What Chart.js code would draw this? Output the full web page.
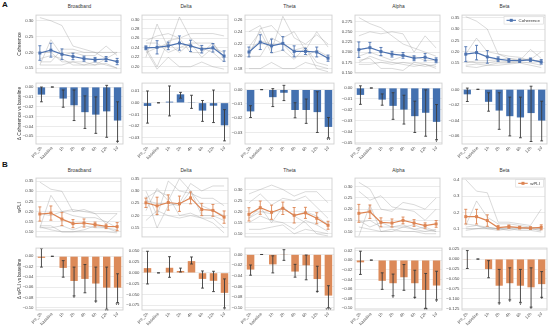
<!DOCTYPE html>
<html>
<head>
<meta charset="utf-8">
<script src="https://cdn.jsdelivr.net/npm/chart.js@4.4.1/dist/chart.umd.min.js"></script>
<style>
  html, body { margin: 0; padding: 0; background: #fff; overflow: hidden; }
  #fig { position: relative; width: 550px; height: 330px; font-family: 'Liberation Sans', Arial, sans-serif; }
  #fig canvas { position: absolute; }
  .lbl { position: absolute; white-space: nowrap; color: #333; line-height: 1; }
  .panel { font-weight: bold; font-size: 8px; color: #111; }
  .ttl { font-size: 4.8px; transform: translate(-50%, -50%); }
</style>
</head>
<body>
<div id="fig"></div>
<script>
// ── Data ────────────────────────────────────────────────────────────────────
const TIMEPOINTS = ['pre_2h', 'baseline', '1h', '2h', '4h', '6h', '12h', '1d'];
const BANDS = ['Broadband', 'Delta', 'Theta', 'Alpha', 'Beta'];

// Coherence (panel A) — group mean and error, one row per band
const cohMean = [
  [0.198, 0.207, 0.194, 0.187, 0.180, 0.177, 0.179, 0.171],
  [0.240, 0.241, 0.244, 0.250, 0.244, 0.237, 0.240, 0.2225],
  [0.207, 0.223, 0.217, 0.221, 0.208, 0.208, 0.207, 0.197],
  [0.206, 0.211, 0.2015, 0.195, 0.192, 0.185, 0.1875, 0.180],
  [0.189, 0.196, 0.177, 0.167, 0.161, 0.160, 0.164, 0.155],
];
const cohErr = [
  [0.023, 0.022, 0.017, 0.010, 0.008, 0.007, 0.008, 0.010],
  [0.004, 0.014, 0.008, 0.015, 0.012, 0.008, 0.009, 0.011],
  [0.008, 0.012, 0.011, 0.011, 0.009, 0.005, 0.008, 0.005],
  [0.019, 0.013, 0.010, 0.007, 0.007, 0.006, 0.009, 0.006],
  [0.033, 0.032, 0.028, 0.010, 0.008, 0.008, 0.008, 0.010],
];
// individual subjects (grey lines)
const cohSubj = [
  [[0.31, 0.30, 0.285, 0.22, 0.21, 0.20, 0.20, 0.20],
   [0.16, 0.24, 0.19, 0.20, 0.19, 0.19, 0.22, 0.19],
   [0.17, 0.17, 0.21, 0.21, 0.20, 0.20, 0.18, 0.20],
   [0.16, 0.16, 0.16, 0.17, 0.17, 0.16, 0.165, 0.15],
   [0.20, 0.20, 0.17, 0.17, 0.16, 0.17, 0.16, 0.15],
   [0.18, 0.19, 0.18, 0.16, 0.16, 0.16, 0.18, 0.17]],
  [[0.22, 0.29, 0.24, 0.305, 0.26, 0.24, 0.23, 0.21],
   [0.24, 0.20, 0.255, 0.26, 0.27, 0.27, 0.27, 0.265],
   [0.255, 0.265, 0.27, 0.26, 0.23, 0.23, 0.25, 0.22],
   [0.235, 0.195, 0.22, 0.20, 0.20, 0.21, 0.20, 0.195],
   [0.25, 0.25, 0.23, 0.24, 0.25, 0.22, 0.24, 0.23],
   [0.23, 0.24, 0.25, 0.23, 0.25, 0.25, 0.25, 0.215]],
  [[0.24, 0.25, 0.21, 0.265, 0.23, 0.22, 0.235, 0.22],
   [0.20, 0.245, 0.25, 0.23, 0.24, 0.21, 0.24, 0.215],
   [0.20, 0.20, 0.23, 0.22, 0.20, 0.20, 0.21, 0.20],
   [0.18, 0.18, 0.19, 0.18, 0.18, 0.19, 0.185, 0.18],
   [0.215, 0.24, 0.205, 0.21, 0.195, 0.215, 0.19, 0.185],
   [0.21, 0.225, 0.22, 0.22, 0.21, 0.215, 0.18, 0.175]],
  [[0.285, 0.27, 0.26, 0.24, 0.22, 0.21, 0.20, 0.19],
   [0.24, 0.25, 0.245, 0.25, 0.245, 0.20, 0.24, 0.21],
   [0.19, 0.20, 0.19, 0.18, 0.19, 0.19, 0.18, 0.18],
   [0.175, 0.19, 0.18, 0.175, 0.17, 0.165, 0.17, 0.16],
   [0.17, 0.17, 0.175, 0.17, 0.175, 0.17, 0.165, 0.17],
   [0.18, 0.185, 0.16, 0.16, 0.155, 0.175, 0.17, 0.165]],
  [[0.355, 0.335, 0.30, 0.19, 0.18, 0.175, 0.16, 0.16],
   [0.19, 0.26, 0.20, 0.19, 0.17, 0.16, 0.21, 0.17],
   [0.15, 0.16, 0.16, 0.165, 0.17, 0.165, 0.165, 0.20],
   [0.14, 0.145, 0.14, 0.15, 0.15, 0.155, 0.15, 0.14],
   [0.135, 0.13, 0.14, 0.14, 0.145, 0.15, 0.14, 0.13],
   [0.16, 0.15, 0.15, 0.16, 0.155, 0.16, 0.17, 0.15]],
];
// change vs baseline, with lower / upper interval and significance marks
const cohDelta = [
  [-0.0077, 0, -0.0117, -0.0185, -0.0255, -0.028, -0.0247, -0.034],
  [-0.0027, 0, 0.001, 0.0073, 0.0005, -0.0067, -0.0025, -0.0194],
  [-0.0153, 0, -0.0053, -0.0022, -0.0143, -0.0143, -0.0158, -0.0262],
  [-0.0063, 0, -0.0106, -0.0163, -0.0197, -0.0257, -0.0226, -0.0309],
  [-0.0064, 0, -0.016, -0.0272, -0.0344, -0.036, -0.0304, -0.040],
];
const cohLo = [
  [-0.015, 0, -0.0205, -0.034, -0.042, -0.047, -0.051, -0.055],
  [-0.0175, 0, -0.0113, 0.004, -0.0048, -0.016, -0.017, -0.0328],
  [-0.0196, 0, -0.0119, -0.0077, -0.0198, -0.0237, -0.0301, -0.0338],
  [-0.0149, 0, -0.0157, -0.0286, -0.0329, -0.0406, -0.044, -0.0471],
  [-0.0156, 0, -0.028, -0.0512, -0.0596, -0.062, -0.0668, -0.066],
];
const cohHi = [
  [0.0, 0, -0.003, -0.003, -0.009, -0.010, 0.0017, -0.015],
  [0.0102, 0, 0.0145, 0.009, 0.0065, 0.002, 0.011, -0.0059],
  [-0.0113, 0, 0.0007, 0.003, -0.0092, -0.0066, -0.0015, -0.0196],
  [0.002, 0, -0.0054, -0.0043, -0.0066, -0.012, -0.0017, -0.0151],
  [0.0016, 0, -0.0044, -0.0044, -0.010, -0.010, 0.004, -0.0152],
];
const cohStars = [
  ['', '', '', '', '', '', '', '*'],
  ['', '', '', '', '', '', '', ''],
  ['', '', '', '', '', '', '', '**'],
  ['', '', '', '', '', '', '', '*'],
  ['', '', '', '', '', '', '', ''],
];

// wPLI (panel B)
const wpliMean = [
  [0.188, 0.1926, 0.1628, 0.1405, 0.1435, 0.136, 0.127, 0.1256],
  [0.2519, 0.2395, 0.253, 0.248, 0.2716, 0.2247, 0.221, 0.1938],
  [0.1877, 0.2178, 0.1973, 0.215, 0.1836, 0.1945, 0.170, 0.1384],
  [0.1813, 0.1885, 0.141, 0.138, 0.1496, 0.138, 0.1266, 0.1338],
  [0.174, 0.174, 0.150, 0.1074, 0.113, 0.107, 0.104, 0.109],
];
const wpliErr = [
  [0.035, 0.035, 0.032, 0.020, 0.020, 0.012, 0.011, 0.020],
  [0.019, 0.035, 0.031, 0.031, 0.024, 0.025, 0.024, 0.025],
  [0.030, 0.030, 0.032, 0.028, 0.035, 0.025, 0.025, 0.018],
  [0.040, 0.030, 0.020, 0.018, 0.015, 0.015, 0.012, 0.015],
  [0.045, 0.045, 0.035, 0.013, 0.010, 0.008, 0.008, 0.015],
];
const wpliSubj = [
  [[0.345, 0.31, 0.30, 0.20, 0.21, 0.19, 0.19, 0.19],
   [0.12, 0.28, 0.20, 0.21, 0.20, 0.19, 0.14, 0.19],
   [0.13, 0.13, 0.10, 0.10, 0.10, 0.10, 0.10, 0.095],
   [0.12, 0.12, 0.13, 0.11, 0.13, 0.12, 0.12, 0.11],
   [0.125, 0.11, 0.10, 0.10, 0.11, 0.13, 0.12, 0.10],
   [0.19, 0.18, 0.20, 0.18, 0.17, 0.17, 0.15, 0.12]],
  [[0.30, 0.20, 0.34, 0.30, 0.29, 0.27, 0.27, 0.24],
   [0.28, 0.15, 0.24, 0.25, 0.33, 0.30, 0.32, 0.32],
   [0.22, 0.31, 0.26, 0.35, 0.30, 0.24, 0.22, 0.20],
   [0.18, 0.22, 0.20, 0.19, 0.20, 0.19, 0.17, 0.13],
   [0.26, 0.25, 0.25, 0.24, 0.30, 0.20, 0.20, 0.18],
   [0.27, 0.30, 0.28, 0.20, 0.21, 0.19, 0.19, 0.15]],
  [[0.28, 0.30, 0.32, 0.30, 0.27, 0.29, 0.29, 0.24],
   [0.24, 0.28, 0.23, 0.26, 0.25, 0.27, 0.22, 0.17],
   [0.17, 0.22, 0.15, 0.22, 0.18, 0.20, 0.18, 0.14],
   [0.12, 0.12, 0.13, 0.14, 0.10, 0.12, 0.11, 0.10],
   [0.15, 0.18, 0.16, 0.15, 0.12, 0.16, 0.14, 0.11],
   [0.17, 0.20, 0.19, 0.22, 0.18, 0.15, 0.10, 0.09]],
  [[0.32, 0.29, 0.20, 0.19, 0.23, 0.22, 0.20, 0.25],
   [0.28, 0.24, 0.26, 0.21, 0.20, 0.19, 0.15, 0.20],
   [0.08, 0.22, 0.10, 0.10, 0.12, 0.11, 0.10, 0.11],
   [0.14, 0.15, 0.12, 0.12, 0.13, 0.11, 0.12, 0.10],
   [0.12, 0.11, 0.10, 0.11, 0.10, 0.10, 0.09, 0.09],
   [0.15, 0.12, 0.14, 0.12, 0.12, 0.13, 0.11, 0.10]],
  [[0.40, 0.33, 0.32, 0.14, 0.14, 0.13, 0.12, 0.22],
   [0.12, 0.27, 0.17, 0.13, 0.13, 0.12, 0.11, 0.10],
   [0.10, 0.10, 0.10, 0.09, 0.10, 0.11, 0.10, 0.09],
   [0.11, 0.12, 0.11, 0.10, 0.10, 0.09, 0.09, 0.08],
   [0.09, 0.10, 0.11, 0.10, 0.09, 0.10, 0.10, 0.09],
   [0.13, 0.12, 0.10, 0.10, 0.11, 0.10, 0.11, 0.10]],
];
const wpliDelta = [
  [-0.003, 0, -0.0226, -0.048, -0.044, -0.053, -0.061, -0.061],
  [0.011, 0, 0.0118, 0.0044, 0.0272, -0.014, -0.0184, -0.0463],
  [-0.0283, 0, -0.0185, -0.001, -0.032, -0.0203, -0.046, -0.077],
  [-0.0046, 0, -0.043, -0.048, -0.0356, -0.048, -0.062, -0.0528],
  [-0.0005, 0, -0.0252, -0.067, -0.0607, -0.067, -0.071, -0.063],
];
const wpliLo = [
  [-0.021, 0, -0.0406, -0.077, -0.071, -0.087, -0.103, -0.090],
  [-0.0257, 0, -0.0103, 0.002, 0.0206, -0.0353, -0.0434, -0.081],
  [-0.0388, 0, -0.0345, -0.011, -0.0425, -0.0474, -0.069, -0.0997],
  [-0.0297, 0, -0.0607, -0.074, -0.0627, -0.0772, -0.100, -0.0825],
  [-0.0237, 0, -0.047, -0.110, -0.1025, -0.1088, -0.1207, -0.096],
];
const wpliHi = [
  [0.015, 0, -0.0084, -0.021, -0.016, -0.021, -0.021, -0.034],
  [0.050, 0, 0.0375, 0.011, 0.0368, 0.0044, 0.0037, -0.014],
  [-0.0197, 0, -0.0025, 0.009, -0.0185, -0.001, -0.022, -0.0585],
  [0.0185, 0, -0.0264, -0.029, -0.0092, -0.021, -0.0277, -0.0231],
  [0.0213, 0, -0.004, -0.026, -0.022, -0.026, -0.022, -0.0315],
];
const wpliStars = [
  ['', '', '', '*', '', '*', '**', '**'],
  ['', '', '', '', '', '', '', '*'],
  ['', '', '', '', '', '', '*', '***'],
  ['', '', '', '*', '', '*', '**', '*'],
  ['', '', '', '*', '*', '*', '*', '*'],
];

// axis limits and tick values
const cohTopLim = [[0.135, 0.318], [0.187, 0.309], [0.173, 0.267], [0.149, 0.291], [0.106, 0.362]];
const cohTopTicks = [
  [0.15, 0.20, 0.25, 0.30], [0.20, 0.22, 0.24, 0.26, 0.28, 0.30], [0.18, 0.20, 0.22, 0.24, 0.26],
  [0.150, 0.175, 0.200, 0.225, 0.250, 0.275], [0.15, 0.20, 0.25, 0.30, 0.35],
];
const cohTopDec = [2, 2, 2, 3, 2];
const cohBarLim = [[-0.0578, 0.004], [-0.0355, 0.017], [-0.0382, 0.0046], [-0.0511, 0.0045], [-0.070, 0.008]];
const cohBarTicks = [
  [0, -0.01, -0.02, -0.03, -0.04, -0.05], [0.01, 0, -0.01, -0.02, -0.03], [0, -0.01, -0.02, -0.03],
  [0, -0.01, -0.02, -0.03, -0.04, -0.05], [0, -0.02, -0.04, -0.06],
];
const cohBarDec = [2, 2, 2, 2, 2];

const wpliTopLim = [[0.075, 0.365], [0.1135, 0.352], [0.0857, 0.3516], [0.0757, 0.339], [0.05, 0.41]];
const wpliTopTicks = [
  [0.10, 0.15, 0.20, 0.25, 0.30, 0.35], [0.15, 0.20, 0.25, 0.30, 0.35], [0.10, 0.15, 0.20, 0.25, 0.30],
  [0.10, 0.15, 0.20, 0.25, 0.30], [0.1, 0.2, 0.3, 0.4],
];
const wpliTopDec = [2, 2, 2, 2, 1];
const wpliBarLim = [[-0.1045, 0.016], [-0.086, 0.0574], [-0.104, 0.012], [-0.1036, 0.025], [-0.128, 0.0276]];
const wpliBarTicks = [
  [0, -0.02, -0.04, -0.06, -0.08, -0.10], [0.05, 0.025, 0, -0.025, -0.05, -0.075],
  [0, -0.02, -0.04, -0.06, -0.08, -0.10], [0.02, 0, -0.02, -0.04, -0.06, -0.08, -0.10],
  [0.025, 0, -0.025, -0.05, -0.075, -0.1, -0.125],
];
const wpliBarDec = [2, 3, 2, 2, 3];

// ── Layout / style ──────────────────────────────────────────────────────────
const COL_LEFT = [36, 142, 245, 355, 462];
const COL_W    = [87, 88, 89, 87, 85];
const FONT  = "'Liberation Sans', Arial, sans-serif";
const GRID  = '#e3e3e3';
const FRAME = '#d0d0d0';
const TICK  = '#4a4a4a';
const XH = 22;   // height of rotated x-label band under bar plots

const fig = document.getElementById('fig');

// plot frame (all four spines)
const framePlugin = {
  id: 'frame',
  afterDraw(chart) {
    const a = chart.chartArea, ctx = chart.ctx;
    ctx.save();
    ctx.strokeStyle = FRAME;
    ctx.lineWidth = 0.9;
    ctx.strokeRect(a.left, a.top, a.right - a.left, a.bottom - a.top);
    ctx.restore();
  },
};

// vertical error bars with caps, plus significance stars
function drawErr(chart, o) {
  const ctx = chart.ctx, ys = chart.scales.y;
  const meta = chart.getDatasetMeta(0);
  ctx.save();
  ctx.strokeStyle = o.color;
  ctx.lineWidth = o.width;
  o.lo.forEach((lo, i) => {
    const px = meta.data[i].x;
    const y0 = ys.getPixelForValue(lo), y1 = ys.getPixelForValue(o.hi[i]);
    ctx.beginPath();
    ctx.moveTo(px, y0); ctx.lineTo(px, y1);
    ctx.moveTo(px - o.cap, y0); ctx.lineTo(px + o.cap, y0);
    ctx.moveTo(px - o.cap, y1); ctx.lineTo(px + o.cap, y1);
    ctx.stroke();
    if (o.stars && o.stars[i]) {
      ctx.fillStyle = '#222';
      ctx.font = `5px ${FONT}`;
      ctx.textAlign = 'center';
      ctx.textBaseline = 'top';
      ctx.fillText(o.stars[i], px, Math.max(y0, y1) + 0.3);
    }
  });
  ctx.restore();
}
const errPlugin = {
  id: 'errbars',
  beforeDatasetDraw(chart, args, o) {
    if (o.lo && o.under && args.index === 0) drawErr(chart, o);
  },
  afterDatasetsDraw(chart, args, o) {
    if (o.lo && !o.under) drawErr(chart, o);
  },
};

// small boxed legend in the upper-right corner of the plot
const legendPlugin = {
  id: 'boxLegend',
  afterDraw(chart, args, o) {
    if (!o.text) return;
    const a = chart.chartArea, ctx = chart.ctx;
    ctx.save();
    ctx.font = `4.4px ${FONT}`;
    const tw = ctx.measureText(o.text).width;
    const w = tw + 18, h = 7.5;
    const x = a.right - w - 1.5, y = a.top + 1.5;
    ctx.fillStyle = 'rgba(255,255,255,0.9)';
    ctx.strokeStyle = '#d6d6d6';
    ctx.lineWidth = 0.6;
    ctx.fillRect(x, y, w, h);
    ctx.strokeRect(x, y, w, h);
    ctx.strokeStyle = o.color;
    ctx.lineWidth = 1.1;
    ctx.beginPath();
    ctx.moveTo(x + 2.5, y + h / 2); ctx.lineTo(x + 12, y + h / 2);
    ctx.stroke();
    ctx.fillStyle = o.color;
    ctx.fillRect(x + 7.25 - 1.5, y + h / 2 - 1.5, 3, 3);
    ctx.fillStyle = '#333';
    ctx.textBaseline = 'middle';
    ctx.fillText(o.text, x + 14.5, y + h / 2 + 0.2);
    ctx.restore();
  },
};

function place(x, y, w, h) {
  const c = document.createElement('canvas');
  c.width = w; c.height = h;
  c.style.left = x + 'px'; c.style.top = y + 'px';
  c.style.width = w + 'px'; c.style.height = h + 'px';
  fig.appendChild(c);
  return c;
}

function label(text, x, y, cls) {
  const d = document.createElement('div');
  d.className = 'lbl ' + cls;
  d.textContent = text;
  d.style.left = x + 'px';
  d.style.top = y + 'px';
  fig.appendChild(d);
}

const fmt = (v, d) => (v < -1e-9 ? '\u2212' : '') + Math.abs(v).toFixed(d);

function yScale(lim, ticks, dec, yw, ylabel) {
  return {
    min: lim[0],
    max: lim[1],
    afterFit: s => { s.width = yw; },
    afterBuildTicks: s => { s.ticks = ticks.map(v => ({ value: v })); },
    grid: { color: GRID, lineWidth: 0.7, drawTicks: false },
    border: { display: false },
    ticks: {
      color: TICK, padding: 2.5, autoSkip: false,
      font: { family: FONT, size: 4.3 },
      callback: v => fmt(v, dec),
    },
    title: {
      display: !!ylabel, text: ylabel || '', color: '#333',
      font: { family: FONT, size: 4.8 }, padding: { top: 17, bottom: 0 },
    },
  };
}

// ── Top row: per-subject lines + group mean ────────────────────────────────
function topChart(col, top, bottom, mean, err, subj, lim, ticks, dec, color, ylabel, legendText) {
  const yw = col === 0 ? COL_LEFT[0] : 30;
  const h = bottom - top;
  const canvas = place(COL_LEFT[col] - yw, top - 2, yw + COL_W[col] + 2, h + 4);
  const datasets = [{
    data: mean.map((v, i) => ({ x: i, y: v })),
    borderColor: color, backgroundColor: color,
    borderWidth: 1.2, pointStyle: 'rect', pointRadius: 2.1, pointBorderWidth: 0,
  }];
  subj.forEach(s => datasets.push({
    data: s.map((v, i) => ({ x: i, y: v })),
    borderColor: 'rgba(150,150,150,0.6)', borderWidth: 0.6, pointRadius: 0,
  }));
  new Chart(canvas, {
    type: 'line',
    data: { datasets },
    options: {
      responsive: false, animation: false, devicePixelRatio: 1, events: [],
      layout: { padding: { top: 2, bottom: 2, right: 2, left: 0 } },
      plugins: {
        legend: { display: false }, tooltip: { enabled: false },
        errbars: {
          lo: mean.map((v, i) => v - err[i]), hi: mean.map((v, i) => v + err[i]),
          color: color, width: 0.9, cap: 1.5, under: true,
        },
        boxLegend: { text: legendText || '', color },
      },
      scales: {
        x: { type: 'linear', min: -0.35, max: 7.35, display: false },
        y: yScale(lim, ticks, dec, yw, ylabel),
      },
    },
    plugins: [framePlugin, errPlugin, legendPlugin],
  });
}

// ── Bottom row: change vs baseline bars ────────────────────────────────────
function barChart(col, top, bottom, vals, lo, hi, stars, lim, ticks, dec, color, ylabel) {
  const yw = col === 0 ? COL_LEFT[0] : 30;
  const h = bottom - top;
  const canvas = place(COL_LEFT[col] - yw, top - 2, yw + COL_W[col] + 2, h + 2 + XH);
  new Chart(canvas, {
    type: 'bar',
    data: {
      labels: TIMEPOINTS,
      datasets: [{
        data: vals, backgroundColor: color, borderWidth: 0,
        barPercentage: 0.8, categoryPercentage: 0.85,
      }],
    },
    options: {
      responsive: false, animation: false, devicePixelRatio: 1, events: [],
      layout: { padding: { top: 2, bottom: 0, right: 2, left: 0 } },
      plugins: {
        legend: { display: false }, tooltip: { enabled: false },
        errbars: { lo, hi, stars, color: '#3a3a3a', width: 0.9, cap: 1.4 },
      },
      scales: {
        x: {
          afterFit: s => { s.height = XH; },
          grid: { display: false, drawTicks: false },
          border: { display: false },
          ticks: {
            color: TICK, font: { family: FONT, size: 4.3 },
            minRotation: 45, maxRotation: 45, padding: 1.5, autoSkip: false,
          },
        },
        y: yScale(lim, ticks, dec, yw, ylabel),
      },
    },
    plugins: [framePlugin, errPlugin],
  });
}

const BLUE = '#4c72b0', BLUE_BAR = '#4471b0';
const ORANGE = '#dd8452', ORANGE_BAR = '#dc8a59';

label('A', 2, 1, 'panel');
label('B', 2, 161, 'panel');

BANDS.forEach((band, c) => {
  const cx = COL_LEFT[c] + COL_W[c] / 2;
  label(band, cx, 6.5, 'ttl');
  label(band, cx, 170.5, 'ttl');

  topChart(c, 12, 76, cohMean[c], cohErr[c], cohSubj[c], cohTopLim[c], cohTopTicks[c], cohTopDec[c],
    BLUE, c === 0 ? 'Coherence' : '', c === 4 ? 'Coherence' : '');
  barChart(c, 80, 144, cohDelta[c], cohLo[c], cohHi[c], cohStars[c], cohBarLim[c], cohBarTicks[c], cohBarDec[c],
    BLUE_BAR, c === 0 ? '\u0394 Coherence vs baseline' : '');

  topChart(c, 175, 240, wpliMean[c], wpliErr[c], wpliSubj[c], wpliTopLim[c], wpliTopTicks[c], wpliTopDec[c],
    ORANGE, c === 0 ? 'wPLI' : '', c === 4 ? 'wPLI' : '');
  barChart(c, 245, 310, wpliDelta[c], wpliLo[c], wpliHi[c], wpliStars[c], wpliBarLim[c], wpliBarTicks[c], wpliBarDec[c],
    ORANGE_BAR, c === 0 ? '\u0394 wPLI vs baseline' : '');
});
</script>
</body>
</html>
